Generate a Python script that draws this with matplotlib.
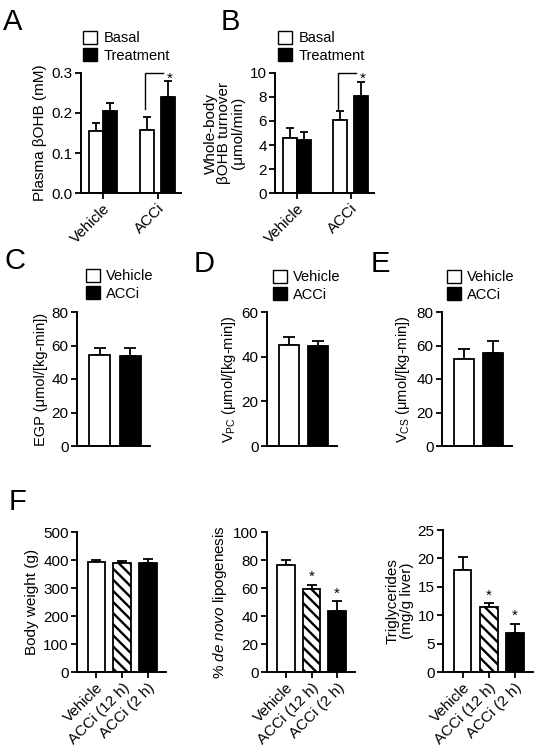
import numpy as np
import matplotlib
matplotlib.use("Agg")
import matplotlib.pyplot as plt
from matplotlib.patches import Patch

plt.rcParams['font.family'] = ['Liberation Sans', 'DejaVu Sans']
plt.rcParams['mathtext.fontset'] = 'custom'
plt.rcParams['mathtext.rm'] = 'Liberation Sans'
plt.rcParams['mathtext.it'] = 'Liberation Sans:italic'
plt.rcParams['hatch.linewidth'] = 1.7
plt.rcParams['axes.linewidth'] = 1.4

# panel A / B : basal vs treatment
groups_ab = ["Vehicle", "ACCi"]
a_basal = [0.155, 0.157]
a_basal_err = [0.020, 0.034]
a_treat = [0.205, 0.240]
a_treat_err = [0.020, 0.040]
b_basal = [4.6, 6.1]
b_basal_err = [0.85, 0.70]
b_treat = [4.4, 8.05]
b_treat_err = [0.65, 1.20]

# panels C, D, E : vehicle vs ACCi
cde_labels = ["Vehicle", "ACCi"]
c_vals = [54.5, 54.0]
c_err = [4.0, 4.5]
d_vals = [45.4, 44.8]
d_err = [3.2, 2.4]
e_vals = [51.7, 55.7]
e_err = [6.0, 7.2]

# panel F
groups_f = ["Vehicle", "ACCi (12 h)", "ACCi (2 h)"]
bw_vals = [392.6, 391.0, 388.0]
bw_err = [7.0, 6.0, 14.0]
dnl_vals = [76.5, 59.2, 43.4]
dnl_err = [3.6, 3.1, 7.1]
tg_vals = [17.9, 11.5, 6.9]
tg_err = [2.4, 0.6, 1.6]

W, H = 535, 750
fig = plt.figure(figsize=(W / 100, H / 100), dpi=100)


def make_ax(left, right, top, bottom):
    ax = fig.add_axes([left / W, 1 - bottom / H, (right - left) / W, (bottom - top) / H])
    ax.spines['top'].set_visible(False)
    ax.spines['right'].set_visible(False)
    ax.tick_params(direction='out', length=4, width=1.3, labelsize=11, pad=2)
    return ax


def bars(ax, x, vals, errs, width, color, hatch=None, capsize=3.5):
    ax.bar(x, vals, width, color=color, edgecolor='black', linewidth=1.3, hatch=hatch, zorder=2)
    ax.errorbar(x, vals, yerr=[np.zeros(len(vals)), errs], fmt='none', ecolor='black',
                elinewidth=1.3, capsize=capsize, capthick=1.3, zorder=1)


def legend(labels, x, y):
    handles = [Patch(facecolor='white', edgecolor='black', linewidth=1.0),
               Patch(facecolor='black', edgecolor='black', linewidth=1.0)]
    fig.legend(handles, labels, loc='upper left', bbox_to_anchor=(x / W, 1 - y / H),
               frameon=False, fontsize=10.5, handlelength=0.95, handleheight=0.95,
               handletextpad=0.45, labelspacing=0.2, borderpad=0, borderaxespad=0)


def letter(s, x, y):
    fig.text(x / W, 1 - y / H, s, fontsize=21, ha='left', va='baseline')


# ---- A and B ----
gaps = np.array([0.0, 0.13])
bw_ab = 0.26
xg = np.arange(len(groups_ab))
for (l, r), basal, berr, treat, terr, ylim, yt, ylab in [
        ((81, 181), a_basal, a_basal_err, a_treat, a_treat_err, 0.3, [0, 0.1, 0.2, 0.3], "Plasma βOHB (mM)"),
        ((275, 374), b_basal, b_basal_err, b_treat, b_treat_err, 10, [0, 2, 4, 6, 8, 10],
         "Whole-body\nβOHB turnover\n(μmol/min)")]:
    ax = make_ax(l, r, 73, 193)
    bars(ax, xg - bw_ab / 2 - gaps / 2, basal, berr, bw_ab, 'white', capsize=3)
    bars(ax, xg + bw_ab / 2 + gaps / 2, treat, terr, bw_ab, 'black', capsize=3)
    ax.set_xlim(-0.40, 1.43)
    ax.set_ylim(0, ylim)
    ax.set_yticks(yt)
    if ylim < 1:
        ax.set_yticklabels(["%.1f" % v for v in yt])
    ax.set_xticks(xg)
    ax.set_xticklabels(groups_ab, rotation=45, ha='right', rotation_mode='anchor', fontsize=11)
    ax.set_ylabel(ylab, fontsize=11, labelpad=3, linespacing=1.0)
    # significance bracket on ACCi
    xb = 1 - bw_ab / 2 - gaps[1] / 2
    xt = 1 + bw_ab / 2 + gaps[1] / 2
    ax.plot([xb - 0.04, xb - 0.04, xt - 0.1], [ylim * 0.70, ylim, ylim], color='black', lw=1.0,
            clip_on=False)
    ax.text(xt + 0.02, ylim * 0.955, "*", ha='center', va='center', fontsize=11)

legend(["Basal", "Treatment"], 83, 31)
legend(["Basal", "Treatment"], 278, 31)
letter("A", 3, 30)
letter("B", 221, 30)

# ---- C, D, E ----
w_cde = 0.68
xc = np.arange(len(cde_labels))
for (l, r), vals, errs, ylim, ylab in [
        ((77, 150), c_vals, c_err, 80, "EGP (μmol/[kg-min])"),
        ((267, 337), d_vals, d_err, 60, "V$_{\\mathrm{PC}}$ (μmol/[kg-min])"),
        ((442, 512), e_vals, e_err, 80, "V$_{\\mathrm{CS}}$ (μmol/[kg-min])")]:
    ax = make_ax(l, r, 312, 446)
    for i in range(len(vals)):
        bars(ax, [xc[i]], [vals[i]], [errs[i]], w_cde, ['white', 'black'][i], capsize=4.5)
    ax.set_xlim(-0.75, 1.65)
    ax.set_ylim(0, ylim)
    ax.set_yticks(np.arange(0, ylim + 1, 20))
    ax.set_xticks([])
    ax.set_ylabel(ylab, fontsize=10.5, labelpad=3)

legend(cde_labels, 86, 269)
legend(cde_labels, 273, 270)
legend(cde_labels, 447, 270)
letter("C", 5, 269)
letter("D", 194, 272)
letter("E", 371, 272)

# ---- F ----
w_f = 0.68
xf = np.arange(len(groups_f))
fcols = ['white', 'white', 'black']
fhatch = [None, '\\\\\\', None]
for (l, r, t), vals, errs, ylim, step, ylab, stars in [
        ((77, 166, 532), bw_vals, bw_err, 500, 100, "Body weight (g)", [None, None, None]),
        ((267, 355, 532), dnl_vals, dnl_err, 100, 20, "% $\\it{de\\ novo}$ lipogenesis", [None, 68, 56]),
        ((443, 533, 530), tg_vals, tg_err, 25, 5, "Triglycerides\n(mg/g liver)", [None, 13.4, 9.9])]:
    ax = make_ax(l, r, t, 672)
    for i in range(len(vals)):
        bars(ax, [xf[i]], [vals[i]], [errs[i]], w_f, fcols[i], hatch=fhatch[i], capsize=3.5)
        if stars[i] is not None:
            ax.text(xf[i], stars[i], "*", ha='center', va='center', fontsize=11)
    ax.set_xlim(-0.75, 2.7)
    ax.set_ylim(0, ylim)
    ax.set_yticks(np.arange(0, ylim + 1, step))
    ax.set_xticks(xf)
    ax.set_xticklabels(groups_f, rotation=45, ha='right', rotation_mode='anchor', fontsize=11)
    ax.set_ylabel(ylab, fontsize=11, labelpad=3, linespacing=1.0)

letter("F", 9, 510)

fig.savefig("out.png", dpi=100)
